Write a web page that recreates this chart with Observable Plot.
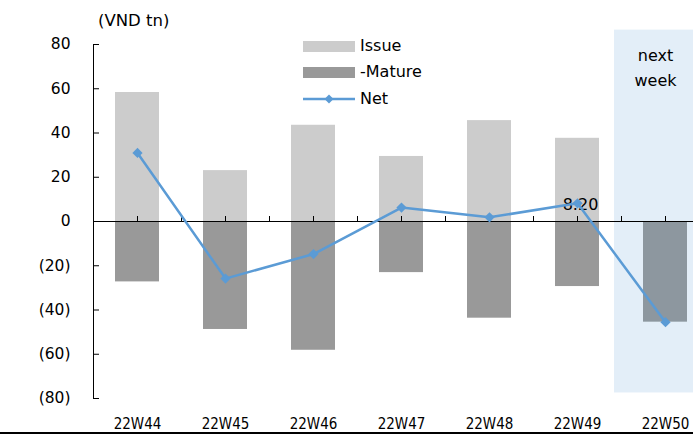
<!DOCTYPE html>
<html>
<head>
<meta charset="utf-8">
<script src="https://cdn.jsdelivr.net/npm/d3@7"></script>
<script src="https://cdn.jsdelivr.net/npm/@observablehq/plot@0.6"></script>
<style>
  html, body { margin: 0; padding: 0; background: #fff; overflow: hidden; }
  #wrap { position: relative; width: 693px; height: 439px; overflow: hidden; font-family: "DejaVu Sans", sans-serif; color: #000; }
  #chart { position: absolute; left: 0; top: 0; width: 709px; }
  #chart svg { max-width: none !important; }
  #unit { position: absolute; left: 98px; top: 11px; font-size: 16.5px; line-height: 20px; }
  .lg { position: absolute; left: 303px; height: 20px; line-height: 20px; font-size: 16px; white-space: nowrap; }
  .lg .sw { position: absolute; left: 0; top: 5px; width: 52px; height: 11px; }
  .lg svg { position: absolute; left: 0; top: 0; }
  .lg span.t { position: absolute; left: 57px; top: 0; }
  #baseline { position: absolute; left: 0; top: 432px; width: 693px; height: 2px; background: #000; }
</style>
</head>
<body>
<div id="wrap">
  <div id="chart"></div>
  <div id="unit">(VND tn)</div>
  <div class="lg" style="top:36px"><div class="sw" style="background:#cccccc"></div><span class="t">Issue</span></div>
  <div class="lg" style="top:62px"><div class="sw" style="background:#999999"></div><span class="t">-Mature</span></div>
  <div class="lg" style="top:89px">
    <svg width="54" height="20"><line x1="0" x2="52" y1="10" y2="10" stroke="#5b9bd5" stroke-width="2.5"/><path d="M26,5.5L30.5,10L26,14.5L21.5,10Z" fill="#5b9bd5"/></svg>
    <span class="t">Net</span>
  </div>
  <div id="baseline"></div>
</div>
<script>
// Weekly government bond flows, VND trillion
const weeks = ["22W44", "22W45", "22W46", "22W47", "22W48", "22W49", "22W50"];
const issue = [58.3, 23.0, 43.5, 29.4, 45.6, 37.6, null];
const mature = [-27.3, -48.8, -58.2, -23.1, -43.7, -29.4, -45.5];
const net = [31.0, -25.8, -14.7, 6.3, 1.9, 8.2, -45.5];
const yTicks = [-80, -60, -40, -20, 0, 20, 40, 60, 80];
const forecastWeek = "22W50";
const labelledWeek = "22W49";

const rows = weeks.map((week, i) => ({week, issue: issue[i], mature: mature[i], net: net[i]}));

const blue = "#5b9bd5";

const chart = Plot.plot({
  width: 709,
  height: 439,
  marginLeft: 93,
  marginRight: 0,
  marginTop: 44,
  marginBottom: 41,
  x: {domain: weeks, padding: 0, axis: null},
  y: {domain: [-80, 80], axis: null},
  style: {fontFamily: "DejaVu Sans, sans-serif", background: "transparent", overflow: "visible", maxWidth: "none"},
  marks: [
    // shaded "next week" panel
    Plot.barY([forecastWeek], {x: d => d, y1: -77.5, y2: 86.5, insetLeft: -7, insetRight: 0, fill: "#e3eef8"}),
    Plot.barY(rows, {x: "week", y: "issue", fill: "#cccccc", insetLeft: 22, insetRight: 22}),
    Plot.barY(rows, {x: "week", y: "mature", fill: d => d.week === forecastWeek ? "#8d979f" : "#999999", insetLeft: 22, insetRight: 22}),
    Plot.ruleY([0], {stroke: "#000", strokeWidth: 1}),
    // small ticks on the zero line at band centres and band edges
    Plot.ruleX(weeks, {x: d => d, y1: 0, y2: 0, insetTop: -5, stroke: "#000"}),
    Plot.ruleX(weeks, {x: d => d, y1: 0, y2: 0, insetTop: -5, dx: 44, stroke: "#000"}),
    Plot.frame({anchor: "left", stroke: "#000"}),
    Plot.axisY({
      ticks: yTicks,
      tickSize: -6,
      tickPadding: 29,
      tickFormat: d => d < 0 ? `(${-d})` : `${d}`,
      fontSize: 15.5,
      stroke: "#000",
      fill: "#000",
      label: null
    }),
    Plot.axisX({tickSize: 0, tickPadding: 20, fontSize: 15, fontFamily: "DejaVu Sans Condensed, DejaVu Sans, sans-serif", fill: "#000", label: null}),
    Plot.text(rows.filter(d => d.week === labelledWeek), {x: "week", y: "net", text: d => d.net.toFixed(2), dx: 3, dy: 2, fontSize: 16, fill: "#000"}),
    Plot.line(rows, {x: "week", y: "net", stroke: blue, strokeWidth: 2.5}),
    Plot.dot(rows, {x: "week", y: "net", symbol: "diamond2", r: 4.6, fill: blue, stroke: "none"}),
    Plot.text([forecastWeek], {x: d => d, text: () => "next\nweek", frameAnchor: "top", lineAnchor: "top", dx: -10, dy: -1, lineHeight: 1.56, fontSize: 16, fill: "#000"})
  ]
});

document.getElementById("chart").appendChild(chart);
</script>
</body>
</html>
